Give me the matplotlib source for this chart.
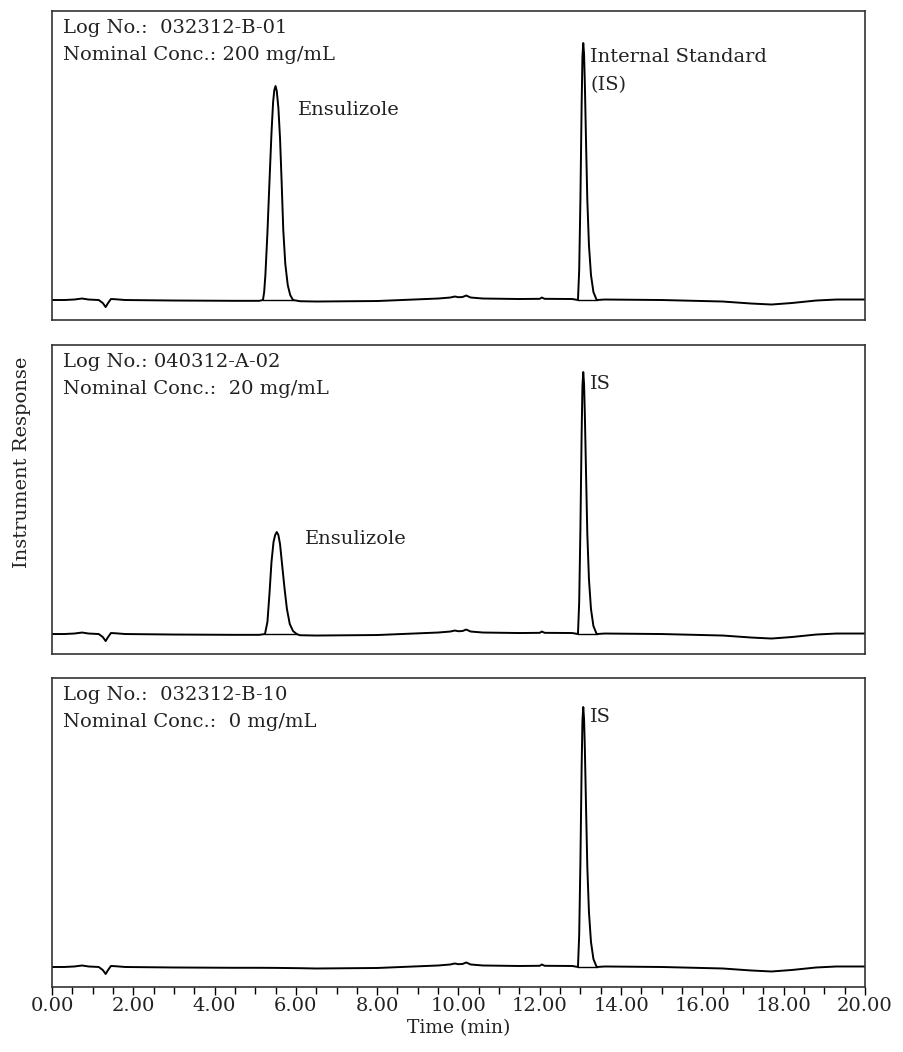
import numpy as np
from matplotlib import pyplot as plt
from matplotlib.ticker import MultipleLocator

plt.rcParams['font.family'] = ['DejaVu Serif']

# baseline (time in min, response above baseline)
base_t = [0.0, 0.3, 0.55, 0.74, 0.9, 1.15, 1.25, 1.32, 1.38, 1.45, 1.55, 1.8, 3.0, 4.5, 5.1]
base_y = [0.0, 0.0, 0.5, 1.5, 0.5, 0.0, -3.0, -7.0, -3.0, 1.0, 0.8, 0.0, -0.5, -0.8, -0.8]
mid_t = [6.1, 6.5, 8.0, 9.5, 9.8, 9.91, 10.0, 10.1, 10.19, 10.3, 10.6, 11.5, 12.0, 12.05, 12.12, 12.8]
mid_y = [-1.2, -1.5, -1.0, 1.5, 2.5, 3.5, 2.8, 3.0, 4.5, 2.5, 1.5, 1.0, 1.2, 2.5, 1.2, 1.0]
end_t = [13.6, 15.0, 16.0, 16.5, 17.2, 17.7, 18.2, 18.8, 19.3, 20.0]
end_y = [0.5, 0.0, -1.0, -1.5, -3.5, -4.5, -3.0, -0.5, 0.5, 0.5]

# Ensulizole peaks
ens1_t = [5.19, 5.22, 5.25, 5.30, 5.35, 5.40, 5.44, 5.47, 5.50, 5.53, 5.57, 5.61,
          5.65, 5.69, 5.74, 5.80, 5.86, 5.93]
ens1_y = [0, 8, 25, 67, 118, 167, 198, 210, 214, 209, 192, 162, 118, 70, 36, 15, 5, 0]
ens2_t = [5.24, 5.30, 5.35, 5.40, 5.45, 5.49, 5.53, 5.57, 5.61, 5.66, 5.72, 5.78, 5.85,
          5.93, 6.02]
ens2_y = [0, 12, 40, 72, 92, 99, 102, 99, 90, 70, 46, 25, 10, 3, 0]

# internal standard peaks
is_t = [12.94, 12.97, 13.00, 13.03, 13.05, 13.07, 13.09, 13.11, 13.14, 13.17, 13.21,
        13.26, 13.32, 13.40]
is1_y = [0, 30, 100, 195, 243, 257, 246, 215, 155, 100, 55, 25, 8, 0]
is2_y = [0, 32, 105, 200, 248, 262, 250, 218, 158, 100, 55, 25, 8, 0]
is3_y = [0, 32, 105, 200, 246, 260, 248, 217, 157, 100, 55, 25, 8, 0]

log_lines = ['Log No.:  032312-B-01', 'Log No.: 040312-A-02', 'Log No.:  032312-B-10']
conc_lines = ['Nominal Conc.: 200 mg/mL', 'Nominal Conc.:  20 mg/mL', 'Nominal Conc.:  0 mg/mL']
ens_peaks = [(ens1_t, ens1_y), (ens2_t, ens2_y), None]
is_peaks = [is1_y, is2_y, is3_y]

fig = plt.figure(figsize=(9.04, 10.52), dpi=100)
bottoms = [0.6958, 0.3783, 0.0618]
axes = []
for i in range(3):
    ax = fig.add_axes([0.0575, bottoms[i], 0.8993, 0.2937])
    axes.append(ax)
    t = list(base_t)
    y = list(base_y)
    if ens_peaks[i] is not None:
        t += ens_peaks[i][0]
        y += ens_peaks[i][1]
    else:
        t += [5.5]
        y += [-0.9]
    t += mid_t + is_t + end_t
    y += mid_y + is_peaks[i] + end_y
    ax.plot(t, y, color='black', lw=1.4)
    # integration baselines under the peaks
    if ens_peaks[i] is not None:
        pt = ens_peaks[i][0]
        ax.plot([pt[0], pt[-1]], [0, 0], color='black', lw=1.0)
    ax.plot([is_t[0], is_t[-1]], [0, 0], color='black', lw=1.0)

    ax.set_xlim(0, 20)
    ax.set_ylim(-20, 289)
    ax.set_yticks([])
    for s in ax.spines.values():
        s.set_color('#333333')
        s.set_linewidth(1.2)
    ax.text(0.0135, 0.945, log_lines[i], transform=ax.transAxes,
            fontsize=14, va='center', ha='left', color='#222222')
    ax.text(0.0135, 0.858, conc_lines[i], transform=ax.transAxes,
            fontsize=14, va='center', ha='left', color='#222222')

axes[0].text(6.05, 190, 'Ensulizole', fontsize=14, va='center', color='#222222')
axes[0].text(13.24, 243, 'Internal Standard', fontsize=14, va='center', color='#222222')
axes[0].text(13.24, 215, '(IS)', fontsize=14, va='center', color='#222222')
axes[1].text(6.22, 95, 'Ensulizole', fontsize=14, va='center', color='#222222')
axes[1].text(13.24, 250, 'IS', fontsize=14, va='center', color='#222222')
axes[2].text(13.24, 250, 'IS', fontsize=14, va='center', color='#222222')

for ax in axes[:2]:
    ax.set_xticks([])
ax = axes[2]
ax.xaxis.set_major_locator(MultipleLocator(2))
ax.xaxis.set_minor_locator(MultipleLocator(0.5))
ax.set_xticklabels(['%.2f' % v for v in ax.get_xticks()])
ax.tick_params(axis='x', which='major', length=6, width=1.0, labelsize=14, pad=1.5,
               labelcolor='#222222')
ax.tick_params(axis='x', which='minor', length=5, width=1.0)
ax.set_xlabel('Time (min)', fontsize=13.5, labelpad=3, color='#222222')

fig.text(0.024, 0.561, 'Instrument Response', rotation=90, fontsize=14,
         va='center', ha='center', color='#222222')

plt.savefig('out.png', dpi=100)
